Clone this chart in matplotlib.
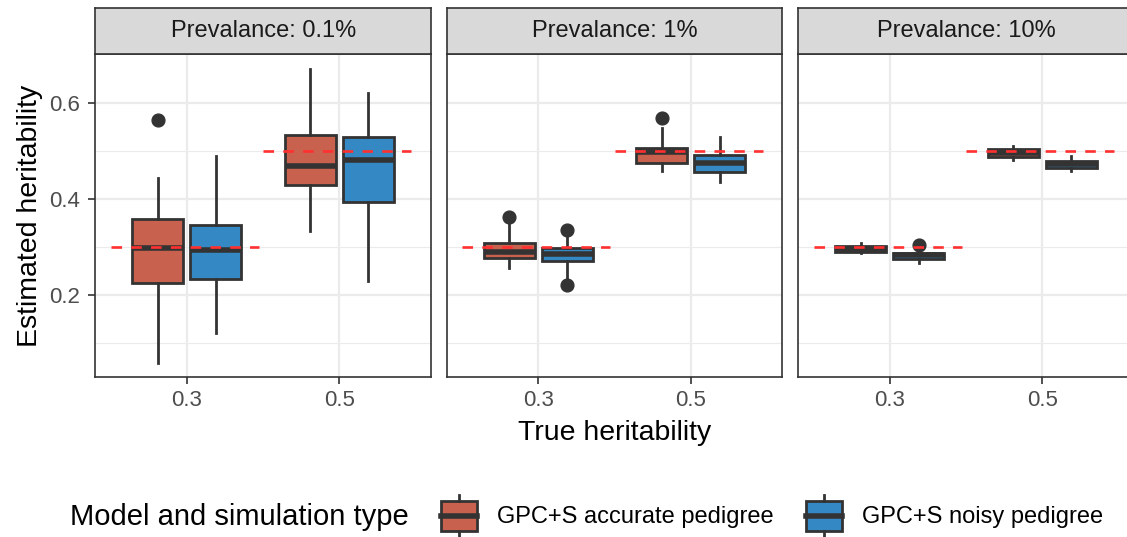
import matplotlib
matplotlib.use("Agg")
import matplotlib.pyplot as plt
from matplotlib.patches import Rectangle
from matplotlib.lines import Line2D

plt.rcParams['font.family'] = ['Liberation Sans', 'DejaVu Sans']

# ---------------- data ----------------
panels = ["Prevalance: 0.1%", "Prevalance: 1%", "Prevalance: 10%"]
true_h_labels = ["0.3", "0.5"]
true_h_values = [0.3, 0.5]
groups = ["GPC+S accurate pedigree", "GPC+S noisy pedigree"]
group_colors = ["#C9614F", "#3489C5"]

# per panel, per true heritability: [whislo, q1, median, q3, whishi]
accurate_stats = [
    [[0.058, 0.225, 0.298, 0.358, 0.445], [0.335, 0.430, 0.469, 0.534, 0.671]],
    [[0.256, 0.277, 0.291, 0.310, 0.353], [0.460, 0.475, 0.499, 0.508, 0.548]],
    [[0.288, 0.291, 0.297, 0.302, 0.309], [0.481, 0.488, 0.497, 0.504, 0.512]],
]
noisy_stats = [
    [[0.121, 0.233, 0.294, 0.346, 0.490], [0.230, 0.394, 0.482, 0.529, 0.622]],
    [[0.235, 0.271, 0.286, 0.298, 0.322], [0.437, 0.458, 0.475, 0.492, 0.530]],
    [[0.268, 0.276, 0.283, 0.289, 0.296], [0.459, 0.466, 0.473, 0.480, 0.490]],
]
accurate_outliers = [[[0.565], []], [[0.364], [0.569]], [[], []]]
noisy_outliers = [[[], []], [[0.336, 0.221], []], [[0.304], []]]

y_ticks = [0.2, 0.4, 0.6]
y_minor = [0.1, 0.3, 0.5]

# ---------------- layout ----------------
W, H, DPI = 1127, 537, 100
fig = plt.figure(figsize=(W / DPI, H / DPI), dpi=DPI)
fig.patch.set_facecolor("white")

def pos(l, t, r, b):
    return [l / W, 1 - b / H, (r - l) / W, (b - t) / H]

panel_lefts = [95.3, 446.7, 798.3]
panel_w = 335.7
p_top, p_bot = 54.0, 377.3
s_top = 8.3

dark = "#333333"
grid_c = "#EBEBEB"
offsets = [-0.19, 0.19]
bw = 0.335

all_stats = [accurate_stats, noisy_stats]
all_out = [accurate_outliers, noisy_outliers]

for pi, title in enumerate(panels):
    l = panel_lefts[pi]
    ax = fig.add_axes(pos(l, p_top, l + panel_w, p_bot))
    ax.set_xlim(0.4, 2.6)
    ax.set_ylim(0.029, 0.703)
    ax.set_facecolor("white")
    # grid
    for yv in y_minor:
        ax.axhline(yv, color=grid_c, lw=0.8, zorder=0)
    for yv in y_ticks:
        ax.axhline(yv, color=grid_c, lw=1.6, zorder=0)
    for xi in range(len(true_h_labels)):
        ax.axvline(xi + 1, color=grid_c, lw=1.6, zorder=0)

    for gi in range(len(groups)):
        stats = []
        positions = []
        for hi in range(len(true_h_labels)):
            s = all_stats[gi][pi][hi]
            stats.append(dict(whislo=s[0], q1=s[1], med=s[2], q3=s[3], whishi=s[4],
                              fliers=all_out[gi][pi][hi]))
            positions.append(hi + 1 + offsets[gi])
        ax.bxp(stats, positions=positions, widths=bw, patch_artist=True,
               showcaps=False, manage_ticks=False,
               boxprops=dict(facecolor=group_colors[gi], edgecolor=dark, linewidth=2.0),
               medianprops=dict(color=dark, linewidth=4.0, solid_capstyle="butt"),
               whiskerprops=dict(color=dark, linewidth=2.0),
               flierprops=dict(marker="o", markerfacecolor=dark, markeredgecolor=dark,
                               markersize=9.2, linestyle="none"),
               zorder=2)

    for hi, hv in enumerate(true_h_values):
        ax.plot([hi + 1 - 0.5, hi + 1 + 0.47], [hv, hv], color="#FF3030", lw=1.9,
                linestyle=(0, (4, 3.5)), zorder=4)

    ax.set_xticks([1, 2])
    ax.set_xticklabels(true_h_labels)
    ax.set_yticks(y_ticks)
    ax.set_yticklabels([f"{v:.1f}" for v in y_ticks])
    ax.tick_params(axis="both", colors=dark, labelcolor="#4D4D4D", labelsize=16,
                   length=5, width=1.2, pad=4)
    ax.tick_params(axis="y", pad=6)
    if pi > 0:
        ax.tick_params(axis="y", left=False, labelleft=False)
    for sp in ax.spines.values():
        sp.set_color(dark)
        sp.set_linewidth(1.2)

    # strip
    sax = fig.add_axes(pos(l, s_top, l + panel_w, p_top))
    sax.set_xticks([]); sax.set_yticks([])
    sax.set_facecolor("#D9D9D9")
    for sp in sax.spines.values():
        sp.set_color(dark)
        sp.set_linewidth(1.2)
    sax.text(0.5, 0.5, title, transform=sax.transAxes, ha="center", va="center",
             fontsize=17, color="#1A1A1A")

# axis titles
fig.text(30 / W, 1 - 215.6 / H, "Estimated heritability", rotation=90,
         ha="center", va="center", fontsize=20.5, color="black")
fig.text(614.5 / W, 1 - 433 / H, "True heritability", ha="center", va="center",
         fontsize=20.5, color="black")

# legend (overlay in pixel coordinates)
lax = fig.add_axes([0, 0, 1, 1], facecolor="none")
lax.set_xlim(0, W); lax.set_ylim(H, 0)
lax.axis("off")
lax.text(70, 517, "Model and simulation type", ha="left", va="center",
         fontsize=21, color="black")
key_x = [441, 806]
text_x = [497, 862]
for gi, g in enumerate(groups):
    kx = key_x[gi]
    lax.add_patch(Rectangle((kx, 501), 36, 30, facecolor=group_colors[gi],
                            edgecolor=dark, lw=2.0))
    lax.add_line(Line2D([kx + 18, kx + 18], [495, 501], color=dark, lw=2.0))
    lax.add_line(Line2D([kx + 18, kx + 18], [531, 537], color=dark, lw=2.0))
    lax.add_line(Line2D([kx, kx + 36], [516, 516], color=dark, lw=4.0))
    lax.text(text_x[gi], 517, g, ha="left", va="center", fontsize=17, color="black")

fig.savefig("out.png", dpi=DPI)
